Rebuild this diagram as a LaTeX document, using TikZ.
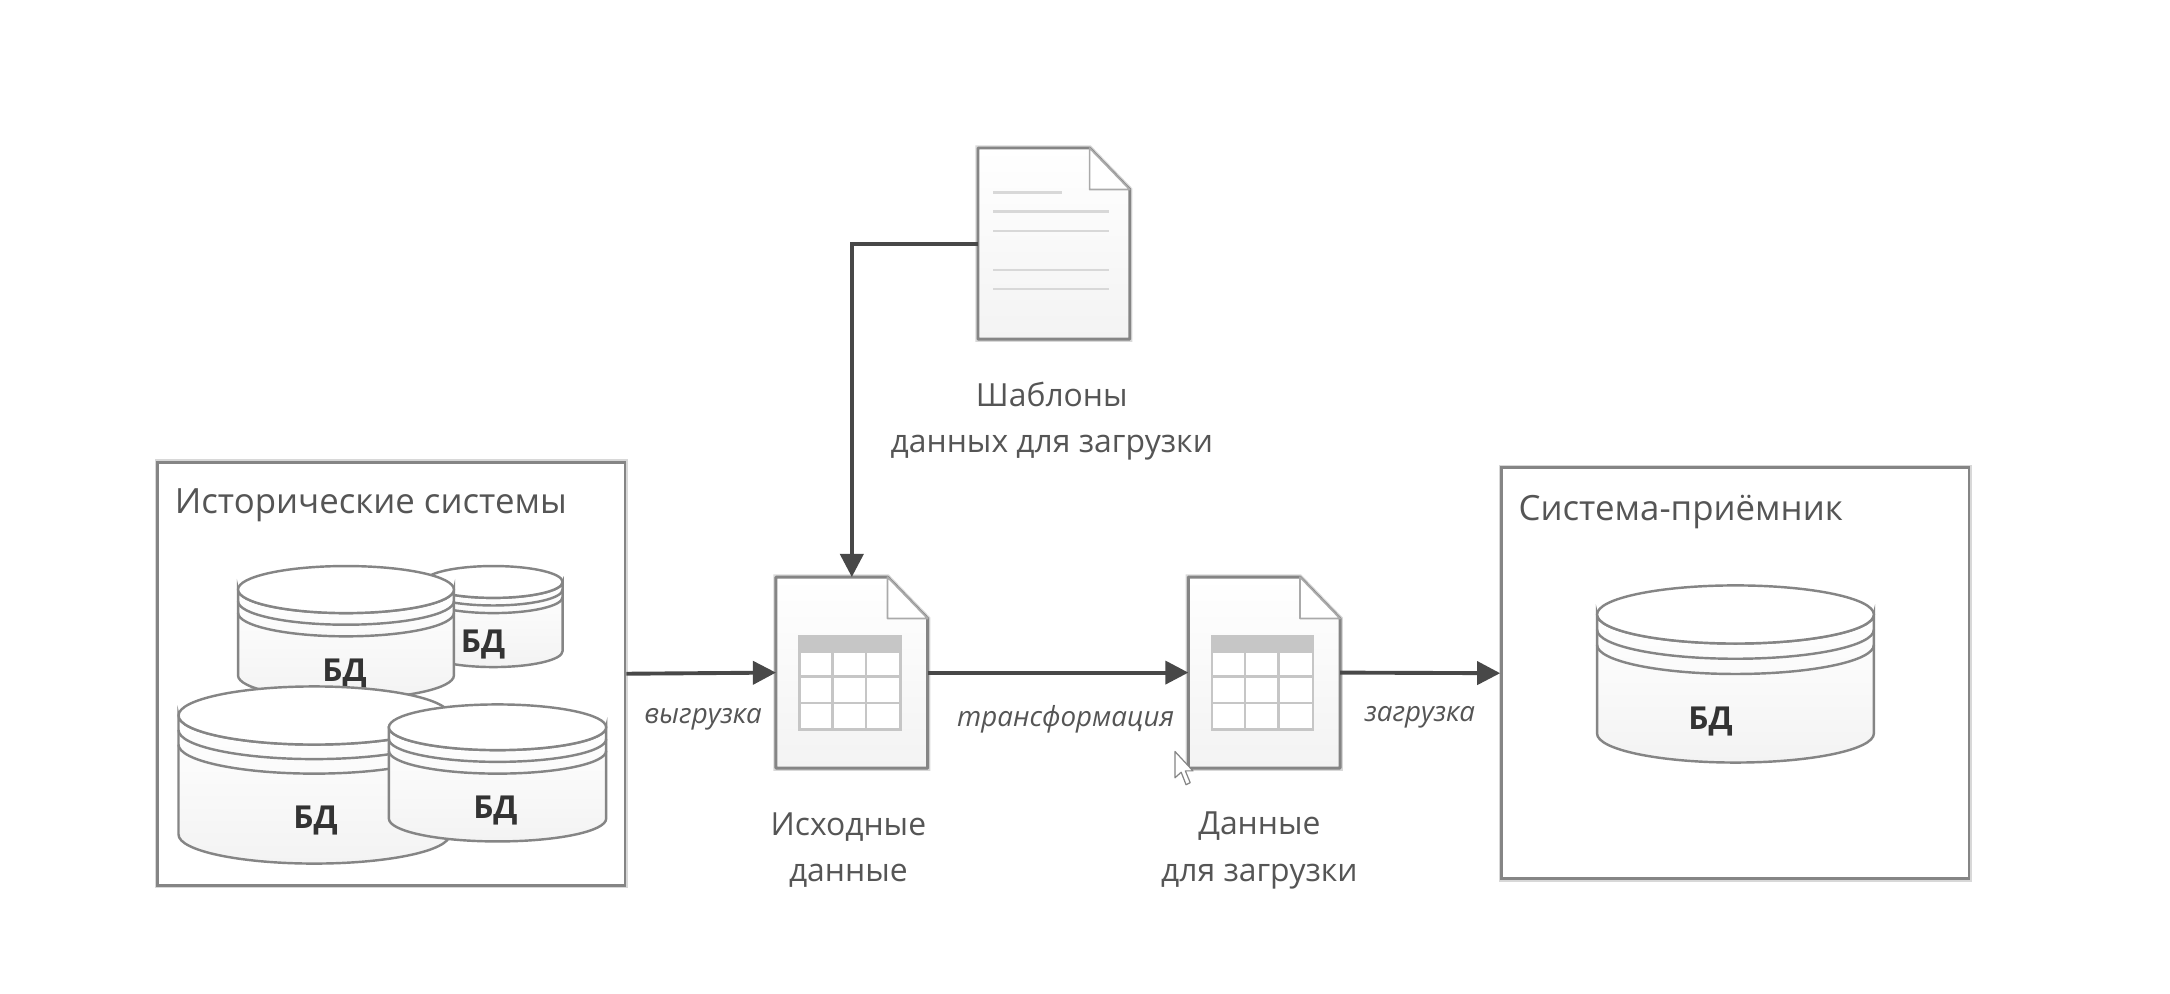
\documentclass[tikz,border=0pt]{standalone}
\usepackage{fontspec}
\setmainfont{Open Sans}
\usetikzlibrary{arrows.meta,calc}
\definecolor{linegray}{HTML}{858585}
\definecolor{softgray}{HTML}{D8D8D8}
\definecolor{arrowdark}{HTML}{484848}
\definecolor{txtgray}{HTML}{555555}
\definecolor{tablegray}{HTML}{C6C6C6}
\definecolor{docfill}{HTML}{F3F3F3}
\tikzset{
  framebox/.style={draw=linegray,line width=1.1pt,fill=white,
    preaction={draw=softgray,line width=2.4pt},anchor=north west,inner sep=0pt},
  docbox/.style={minimum width=62pt,minimum height=78.2pt,inner sep=0pt},
  flow/.style={draw=arrowdark,line width=1.6pt,-{Triangle[length=9.5pt,width=9.5pt]}},
  title/.style={text=txtgray,font=\fontsize{14.3pt}{16pt}\selectfont,inner sep=0pt},
  caption/.style={text=txtgray,font=\fontsize{13.1pt}{16pt}\selectfont,inner sep=0pt},
  edgelabel/.style={text=txtgray,font=\fontsize{11.4pt}{12pt}\selectfont\itshape,inner sep=0pt},
  dblabel/.style={text=black!80,font=\fontsize{13pt}{15pt}\selectfont\bfseries,inner sep=0pt},
  dbline/.style={draw=linegray,line width=1pt},
  docline/.style={draw=linegray,line width=1.2pt,line join=round,preaction={draw=softgray,line width=2.2pt}},
}
% #1 cx, #2 top, #3 rx, #4 ry, #5 ring gap, #6 bottom
\newcommand\dbcyl[6]{%
  \path[dbline,top color=white,bottom color=docfill]
    (#1-#3,#2+#4) -- (#1-#3,#6-#4)
    arc[start angle=180,end angle=0,x radius=#3,y radius=#4]
    -- (#1+#3,#2+#4)
    arc[start angle=0,end angle=180,x radius=#3,y radius=#4] -- cycle;
  \draw[dbline] (#1-#3,#2+#4+#5) arc[start angle=180,end angle=0,x radius=#3,y radius=#4];
  \draw[dbline] (#1-#3,#2+#4+2*#5) arc[start angle=180,end angle=0,x radius=#3,y radius=#4];
  \draw[dbline,fill=white] (#1,#2+#4) ellipse[x radius=#3,y radius=#4];
}
% #1 node name
\newcommand\docshape[1]{%
  \path[docline,top color=white,bottom color=docfill]
    (#1.north west) -- ($(#1.north east)+(-29,0)$) -- ($(#1.north east)+(0,30)$)
    -- (#1.south east) -- (#1.south west) -- cycle;
  \draw[draw=linegray!70,line width=.7pt,fill=white,line join=round]
    ($(#1.north east)+(-29,0)$) -- ($(#1.north east)+(-29,30)$) -- ($(#1.north east)+(0,30)$) -- cycle;
}
\newcommand\doctable[1]{%
  \fill[tablegray] ($(#1.north west)+(17,43)$) rectangle ($(#1.north west)+(90,54)$);
  \draw[tablegray,line width=1.1pt,fill=white] ($(#1.north west)+(17,54)$) rectangle ($(#1.north west)+(90,110)$);
  \draw[tablegray,line width=1.1pt]
    ($(#1.north west)+(17,43)$) rectangle ($(#1.north west)+(90,54)$)
    ($(#1.north west)+(17,72)$) -- ($(#1.north west)+(90,72)$)
    ($(#1.north west)+(17,91)$) -- ($(#1.north west)+(90,91)$)
    ($(#1.north west)+(41,54)$) -- ($(#1.north west)+(41,110)$)
    ($(#1.north west)+(65,54)$) -- ($(#1.north west)+(65,110)$);
}
\begin{document}
\begin{tikzpicture}[x=0.02cm,y=-0.02cm]
\useasboundingbox (0,0) rectangle (1568,718.2);
% frames
\node[framebox,minimum width=192.2pt,minimum height=174pt] (hist) at (113,333) {};
\node[framebox,minimum width=192.2pt,minimum height=169pt] (recv) at (1084,337) {};
\node[title,anchor=west] (histt) at (126,365) {Исторические системы};
\node[title,anchor=west] (recvt) at (1097,370) {Система-приёмник};
% databases
\dbcyl{356.5}{409}{50}{11.5}{5.5}{482}
\node[dblabel] (db2) at (349,466) {БД};
\dbcyl{250}{409}{78}{17}{8.4}{505}
\node[dblabel] (db1) at (249,487) {БД};
\dbcyl{227}{496}{98}{21}{10.5}{624}
\node[dblabel] (db3) at (228,593) {БД};
\dbcyl{359.5}{509}{78.5}{16.5}{8.5}{608}
\node[dblabel] (db4) at (358,586) {БД};
\dbcyl{1254}{423}{100}{21}{11}{551}
\node[dblabel] (db5) at (1236,521) {БД};
% documents
\node[docbox] (tpl) at (761.5,176) {};
\node[docbox] (src) at (615.5,486) {};
\node[docbox] (out) at (913.5,486) {};
\docshape{tpl}\docshape{src}\docshape{out}
\doctable{src}\doctable{out}
\draw[softgray,line width=1pt]
  ($(tpl.north west)+(11,32)$) -- ($(tpl.north west)+(61,32)$)
  ($(tpl.north west)+(11,46)$) -- ($(tpl.north west)+(95,46)$)
  ($(tpl.north west)+(11,60)$) -- ($(tpl.north west)+(95,60)$)
  ($(tpl.north west)+(11,88)$) -- ($(tpl.north west)+(95,88)$)
  ($(tpl.north west)+(11,102)$) -- ($(tpl.north west)+(95,102)$);
% connectors
\draw[flow] (tpl.west) -| (src.north);
\draw[flow] (hist.east) -- (src.west);
\draw[flow] (src.east) -- (out.west);
\draw[flow] (out.east) -- (recv.west);
% captions
\node[caption,align=center] (tplt) at (760,304.5) {Шаблоны\\[3pt]данных для загрузки};
\node[caption,align=center] (srct) at (613,614.5) {Исходные\\[3pt]данные};
\node[caption,align=center] (outt) at (910,614.5) {Данные\\[3pt]для загрузки};
\node[edgelabel] (e1) at (508,520) {выгрузка};
\node[edgelabel] (e2) at (770,520) {трансформация};
\node[edgelabel] (e3) at (1026,518) {загрузка};
% mouse pointer
\draw[linegray,line width=.5pt,fill=white,line join=round]
  (849,543) -- (849,562) -- (853.5,558) -- (857,567) -- (860,565.5) -- (856.5,557) -- (862,557) -- cycle;
\end{tikzpicture}
\end{document}
